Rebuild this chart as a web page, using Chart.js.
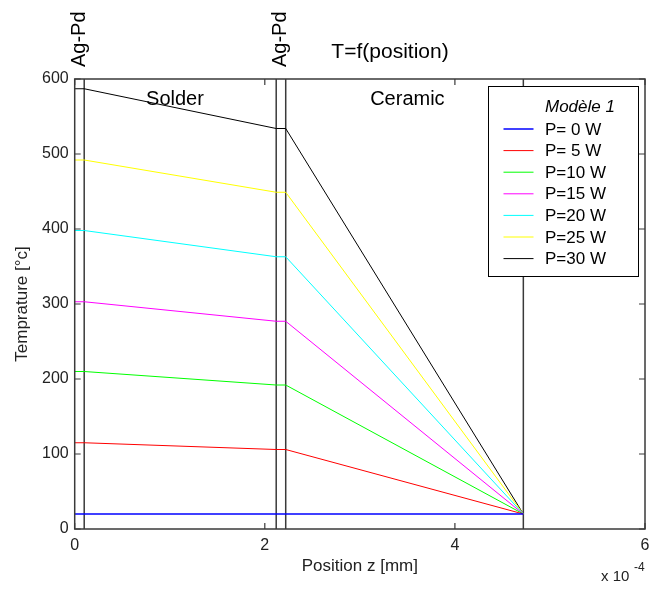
<!DOCTYPE html>
<html>
<head>
<meta charset="utf-8">
<script src="https://cdn.jsdelivr.net/npm/chart.js@4/dist/chart.umd.min.js"></script>
<style>
html,body{margin:0;padding:0;background:#fff;}
#wrap{width:649px;height:590px;position:relative;}
</style>
</head>
<body>
<div id="wrap"><canvas id="c" width="649" height="590"></canvas></div>
<script>
// ---- data (x in units of 1e-4 mm) ----
const positions = [0, 0.1, 2.12, 2.22, 4.72];
const seriesLabels = ['P= 0 W', 'P= 5 W', 'P=10 W', 'P=15 W', 'P=20 W', 'P=25 W', 'P=30 W'];
const p0  = [20, 20, 20, 20, 20];
const p5  = [115, 115, 106, 106, 20];
const p10 = [210, 210, 192, 192, 20];
const p15 = [303, 303, 277, 277, 20];
const p20 = [398, 398, 363, 363, 20];
const p25 = [492, 492, 449, 449, 20];
const p30 = [587, 587, 534, 534, 20];
const seriesValues = [p0, p5, p10, p15, p20, p25, p30];
const seriesColors = ['#0000ff', '#ff0000', '#00ff00', '#ff00ff', '#00ffff', '#ffff00', '#000000'];
const boundaries = [0.1, 2.12, 2.22, 4.72];
const xTicks = [0, 2, 4, 6];
const yTicks = [0, 100, 200, 300, 400, 500, 600];
const layerLabels = [
  {text: 'Solder', x: 1.055, y: 573},
  {text: 'Ceramic', x: 3.5, y: 573}
];
const agpdLabels = [0.05, 2.17];
const legendTitle = 'Modèle 1';
const chartTitle = 'T=f(position)';

const FONT = "'Liberation Sans', Arial, sans-serif";

const datasets = seriesValues.map((vals, i) => ({
  label: seriesLabels[i],
  data: positions.map((x, j) => ({x: x, y: vals[j]})),
  borderColor: seriesColors[i],
  backgroundColor: seriesColors[i],
  borderWidth: i === 0 ? 1.5 : 1,
  showLine: true,
  pointRadius: 0,
  fill: false,
  tension: 0
}));

const overlay = {
  id: 'overlay',
  beforeDatasetsDraw(chart) {
    const {ctx, chartArea: a, scales: {x, y}} = chart;
    ctx.save();
    ctx.strokeStyle = '#3a3a3a';
    ctx.lineWidth = 1.5;
    boundaries.forEach(b => {
      const px = x.getPixelForValue(b);
      ctx.beginPath();
      ctx.moveTo(px, y.getPixelForValue(0));
      ctx.lineTo(px, y.getPixelForValue(600));
      ctx.stroke();
    });
    ctx.restore();
  },
  afterDatasetsDraw(chart) {
    const {ctx, chartArea: a, scales: {x, y}} = chart;
    ctx.save();
    // frame
    ctx.strokeStyle = '#3a3a3a';
    ctx.lineWidth = 1.5;
    ctx.strokeRect(a.left, a.top, a.right - a.left, a.bottom - a.top);
    // inward ticks
    ctx.lineWidth = 1.2;
    const tl = 6;
    xTicks.forEach(v => {
      const px = x.getPixelForValue(v);
      ctx.beginPath();
      ctx.moveTo(px, a.bottom); ctx.lineTo(px, a.bottom - tl);
      ctx.moveTo(px, a.top); ctx.lineTo(px, a.top + tl);
      ctx.stroke();
    });
    yTicks.forEach(v => {
      const py = y.getPixelForValue(v);
      ctx.beginPath();
      ctx.moveTo(a.left, py); ctx.lineTo(a.left + tl, py);
      ctx.moveTo(a.right, py); ctx.lineTo(a.right - tl, py);
      ctx.stroke();
    });
    // layer labels
    ctx.fillStyle = '#000';
    ctx.font = '20px ' + FONT;
    ctx.textAlign = 'center';
    ctx.textBaseline = 'middle';
    layerLabels.forEach(l => {
      ctx.fillText(l.text, x.getPixelForValue(l.x), y.getPixelForValue(l.y));
    });
    // Ag-Pd rotated labels
    agpdLabels.forEach(v => {
      ctx.save();
      ctx.translate(x.getPixelForValue(v), a.top - 12);
      ctx.rotate(-Math.PI / 2);
      ctx.textAlign = 'left';
      ctx.textBaseline = 'middle';
      ctx.fillText('Ag-Pd', 0, 0);
      ctx.restore();
    });
    // chart title
    ctx.font = '21px ' + FONT;
    ctx.textAlign = 'center';
    ctx.textBaseline = 'middle';
    ctx.fillText(chartTitle, 390, 52);
    // exponent label
    ctx.fillStyle = '#222';
    ctx.font = '15px ' + FONT;
    ctx.textAlign = 'left';
    ctx.textBaseline = 'middle';
    ctx.fillText('x 10', 601, 577);
    ctx.font = '12px ' + FONT;
    ctx.fillText('-4', 634, 568);
    // legend
    const lx = 488.5, ly = 86.5, lw = 150, lh = 190;
    ctx.fillStyle = '#fff';
    ctx.fillRect(lx, ly, lw, lh);
    ctx.strokeStyle = '#000';
    ctx.lineWidth = 1;
    ctx.strokeRect(lx, ly, lw, lh);
    ctx.fillStyle = '#000';
    ctx.font = 'italic 17px ' + FONT;
    ctx.fillText(legendTitle, 545, 107);
    ctx.font = '17px ' + FONT;
    chart.data.datasets.forEach((ds, i) => {
      const ry = 129 + i * 21.6;
      ctx.strokeStyle = ds.borderColor;
      ctx.lineWidth = i === 0 ? 1.5 : 1;
      ctx.beginPath();
      ctx.moveTo(503.5, ry); ctx.lineTo(533.5, ry);
      ctx.stroke();
      ctx.fillStyle = '#000';
      ctx.fillText(ds.label, 545, ry + 1);
    });
    ctx.restore();
  }
};

new Chart(document.getElementById('c'), {
  type: 'scatter',
  data: {datasets},
  options: {
    responsive: false,
    animation: false,
    devicePixelRatio: 1,
    layout: {padding: {top: 79, right: 4, left: 0, bottom: 0}},
    plugins: {legend: {display: false}, tooltip: {enabled: false}, title: {display: false}},
    scales: {
      x: {
        type: 'linear', min: 0, max: 6,
        afterFit: s => { s.height = 61; s.paddingLeft = 0; s.paddingRight = 0; },
        afterBuildTicks: s => { s.ticks = xTicks.map(v => ({value: v})); },
        grid: {display: false, drawTicks: false},
        border: {display: false},
        ticks: {padding: 7, color: '#222', font: {family: FONT, size: 16}, maxRotation: 0},
        title: {display: true, text: 'Position z [mm]', color: '#222', font: {family: FONT, size: 17}, padding: {top: 0, bottom: 13}}
      },
      y: {
        type: 'linear', min: 0, max: 600,
        afterFit: s => { s.width = 74.7; s.paddingTop = 0; s.paddingBottom = 0; },
        afterBuildTicks: s => { s.ticks = yTicks.map(v => ({value: v})); },
        grid: {display: false, drawTicks: false},
        border: {display: false},
        ticks: {padding: 6, color: '#222', font: {family: FONT, size: 16}},
        title: {display: true, text: 'Temprature [°c]', color: '#222', font: {family: FONT, size: 17}, padding: {top: 12, bottom: 0}}
      }
    }
  },
  plugins: [overlay]
});
</script>
</body>
</html>
